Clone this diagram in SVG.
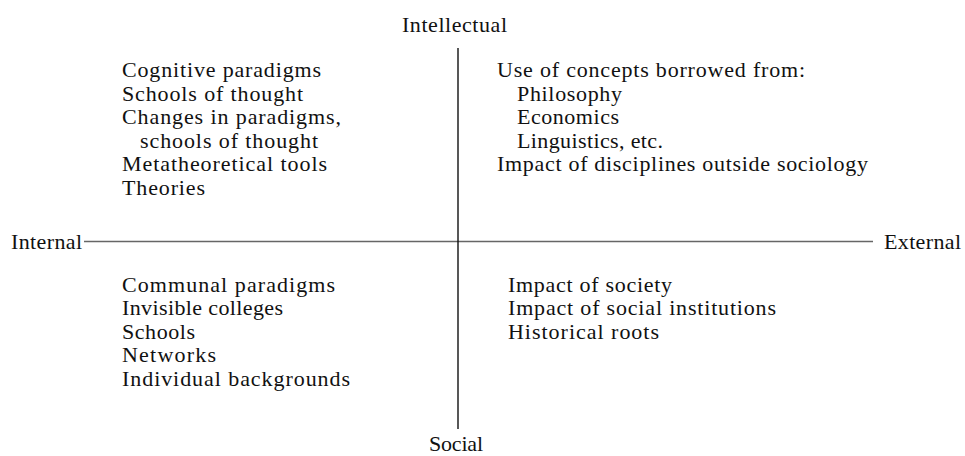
<svg xmlns="http://www.w3.org/2000/svg" width="965" height="456" viewBox="0 0 965 456">
  <style>
    text { font-family: "Liberation Serif", "Times New Roman", serif; font-size: 22px; fill: #111; }
    .axis-h { stroke: #666; stroke-width: 1.6; }
    .axis-v { stroke: #111; stroke-width: 1.4; }
  </style>
  <rect width="965" height="456" fill="#fff"/>

  <!-- axes -->
  <g id="connectors">
    <line class="axis-h" x1="84" y1="241.5" x2="873" y2="241.5"/>
    <line class="axis-v" x1="458" y1="48" x2="458" y2="429"/>
  </g>

  <!-- axis labels -->
  <g id="label-intellectual"><text x="402" y="32" textLength="105">Intellectual</text></g>
  <g id="label-internal"><text x="11" y="249" textLength="71">Internal</text></g>
  <g id="label-external"><text x="884" y="249" textLength="77">External</text></g>
  <g id="label-social"><text x="429" y="451" font-size="21" textLength="54">Social</text></g>

  <!-- internal / intellectual -->
  <g id="quadrant-internal-intellectual">
    <text x="122" y="77" textLength="199">Cognitive paradigms</text>
    <text x="122" y="100.5" textLength="181">Schools of thought</text>
    <text x="122" y="124" textLength="219">Changes in paradigms,</text>
    <text x="140" y="147.5" textLength="178">schools of thought</text>
    <text x="122" y="171" textLength="205">Metatheoretical tools</text>
    <text x="122" y="194.5" textLength="83">Theories</text>
  </g>

  <!-- external / intellectual -->
  <g id="quadrant-external-intellectual">
    <text x="497" y="77" textLength="308">Use of concepts borrowed from:</text>
    <text x="517" y="100.5" textLength="105">Philosophy</text>
    <text x="517" y="124" textLength="102">Economics</text>
    <text x="517" y="147.5" textLength="146">Linguistics, etc.</text>
    <text x="497" y="171" textLength="371">Impact of disciplines outside sociology</text>
  </g>

  <!-- internal / social -->
  <g id="quadrant-internal-social">
    <text x="122" y="291.5" textLength="213">Communal paradigms</text>
    <text x="122" y="315" textLength="161">Invisible colleges</text>
    <text x="122" y="338.5" textLength="73">Schools</text>
    <text x="122" y="362" textLength="94">Networks</text>
    <text x="122" y="385.5" textLength="228">Individual backgrounds</text>
  </g>

  <!-- external / social -->
  <g id="quadrant-external-social">
    <text x="508" y="291.5" textLength="164">Impact of society</text>
    <text x="508" y="315" textLength="268">Impact of social institutions</text>
    <text x="508" y="338.5" textLength="151">Historical roots</text>
  </g>
</svg>
